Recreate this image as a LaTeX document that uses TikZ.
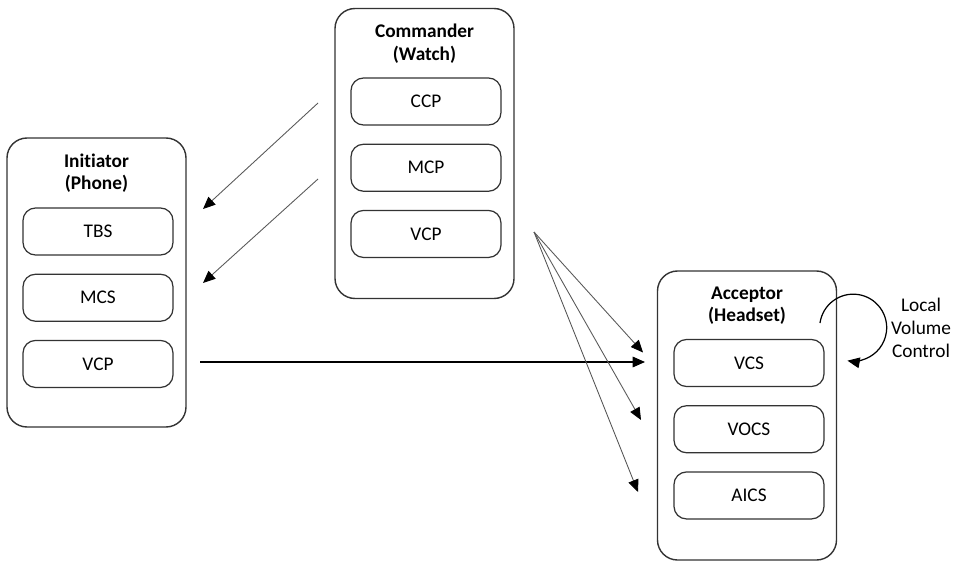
\documentclass[tikz,border=0pt]{standalone}
\usepackage{fontspec}
\setmainfont[Ligatures=NoCommon]{Carlito}
\usetikzlibrary{arrows.meta,positioning}

\begin{document}
\begin{tikzpicture}[
	device/.style={draw=black!80, line width=0.8pt, rounded corners=0.4cm,
		minimum width=3.58cm, minimum height=5.8cm},
	profile/.style={draw=black!80, line width=0.7pt, rounded corners=0.25cm,
		minimum width=3cm, minimum height=0.94cm, font=\fontsize{11}{13}\selectfont},
	devname/.style={align=center, font=\bfseries\fontsize{11}{13}\selectfont},
	msg/.style={draw=black!65, line width=0.5pt, -{Triangle[length=7pt,width=6pt,color=black]}},
	]
	\useasboundingbox (0,0) rectangle (19.12,11.22);
	
	% the three devices
	\node[device] (cmd) at (8.49,8.15) {};
	\node[device, minimum height=5.78cm] (ini) at (1.93,5.57) {};
	\node[device, minimum height=5.78cm] (acc) at (14.94,2.91) {};
	
	\node[devname, below=0.2cm of cmd.north] {Commander\\(Watch)};
	\node[devname, below=0.2cm of ini.north] {Initiator\\(Phone)};
	\node[devname, below=0.2cm of acc.north] {Acceptor\\(Headset)};
	
	% profiles and services
	\node[profile] (ccp) at (8.52,9.19) {CCP};
	\node[profile, below=0.36cm of ccp] (mcp) {MCP};
	\node[profile, below=0.36cm of mcp] (cvcp) {VCP};
	
	\node[profile] (tbs) at (1.96,6.59) {TBS};
	\node[profile, below=0.36cm of tbs] (mcs) {MCS};
	\node[profile, below=0.36cm of mcs] (ivcp) {VCP};
	
	\node[profile] (vcs) at (14.98,3.96) {VCS};
	\node[profile, below=0.36cm of vcs] (vocs) {VOCS};
	\node[profile, below=0.36cm of vocs] (aics) {AICS};
	
	% arrow ends
	\coordinate (c1) at (6.36,9.16);
	\coordinate (c2) at (6.36,7.64);
	\coordinate (i1) at (4.06,7.04);
	\coordinate (i2) at (4.06,5.56);
	\coordinate (i3) at (4.00,3.98);
	\coordinate (v) at (10.68,6.58);
	\coordinate (a0) at (12.90,3.98);
	\coordinate (a1) at (12.86,4.17);
	\coordinate (a2) at (12.82,2.82);
	\coordinate (a3) at (12.76,1.38);
	
	\draw[msg] (c1) -- (i1);
	\draw[msg] (c2) -- (i2);
	\draw[msg, draw=black, line width=0.7pt] (i3) -- (a0);
	\foreach \t in {a1,a2,a3}
	{
		\draw[msg] (v) -- (\t);
	}
	
	% local volume control
	\draw[msg, draw=black, line width=0.7pt] (16.40,4.76) arc (172:-100:0.67);
	\node[align=center, font=\fontsize{11}{13}\selectfont] (lvc) at (18.42,4.66) {Local\\Volume\\Control};
\end{tikzpicture}
\end{document}
